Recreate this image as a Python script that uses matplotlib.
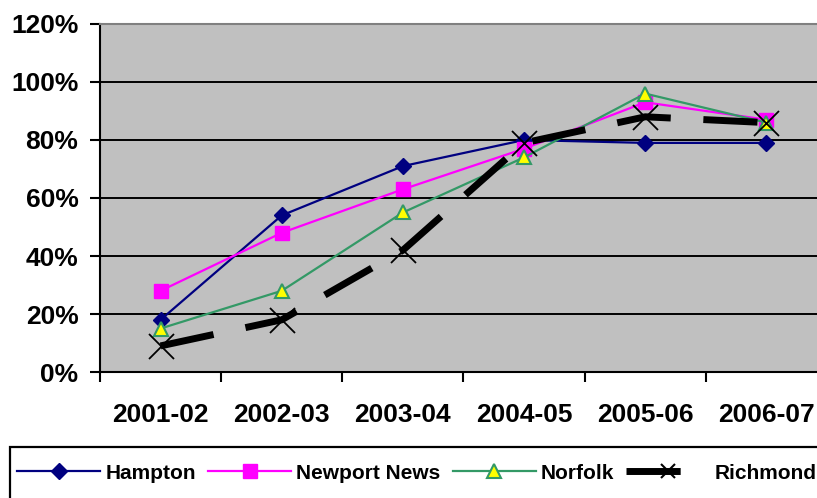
import matplotlib.pyplot as plt
from matplotlib.lines import Line2D
from matplotlib.patches import Rectangle

years = ['2001-02', '2002-03', '2003-04', '2004-05', '2005-06', '2006-07']
hampton = [18, 54, 71, 80, 79, 79]
newport_news = [28, 48, 63, 77, 93, 87]
norfolk = [15, 28, 55, 74, 96, 86]
richmond = [9, 18, 42, 79, 88, 86]

plt.rcParams['font.family'] = ['Liberation Sans', 'DejaVu Sans']

fig = plt.figure(figsize=(8.17, 4.98), dpi=100)
ax = fig.add_axes([100/817, 1-372/498, 727/817, 348/498])
ax.set_facecolor('#C0C0C0')

x = list(range(len(years)))
h1, = ax.plot(x, hampton, color='#000080', lw=1.6, marker='D', ms=8,
              mfc='#000080', mec='#000080', zorder=3)
h2, = ax.plot(x, newport_news, color='#FF00FF', lw=1.6, marker='s', ms=10,
              mfc='#FF00FF', mec='#FF00FF', zorder=3)
h3, = ax.plot(x, norfolk, color='#339966', lw=1.6, marker='^', ms=10,
              mfc='#FFFF00', mec='#339966', mew=1.5, zorder=3)
ax.plot(x, richmond, color='black', lw=5, dashes=(7.8, 4.7), marker='x', ms=18,
        mew=1.3, mec='black', zorder=4)

ax.set_xlim(-0.5, 5.5)
ax.set_ylim(0, 120)
ax.set_yticks(range(0, 121, 20))
ax.set_yticklabels([f'{v}%' for v in range(0, 121, 20)])
ax.yaxis.grid(True, color='black', lw=1.4)
ax.set_axisbelow(True)

ax.set_xticks([i - 0.5 for i in range(7)])
ax.set_xticklabels([])
ax.set_xticks(x, minor=True)
ax.set_xticklabels(years, minor=True, fontsize=19, fontweight='bold')
ax.tick_params(axis='x', which='major', direction='out', length=7, width=1.5)
ax.tick_params(axis='x', which='minor', length=0, pad=22)
ax.tick_params(axis='y', direction='out', length=7, width=1.5, labelsize=19, pad=8.5)
for lab in ax.get_yticklabels():
    lab.set_fontweight('bold')

ax.spines['top'].set_color('#808080')
ax.spines['top'].set_linewidth(1.5)
ax.spines['right'].set_visible(False)
ax.spines['left'].set_linewidth(1.5)
ax.spines['bottom'].set_linewidth(1.5)

# legend box runs off the right and bottom edges, as in the original
fig.patches.append(Rectangle((10/817, -0.05), 1.0, 1-447/498+0.05,
                             transform=fig.transFigure, fill=False,
                             edgecolor='black', lw=1.6))
h4 = Line2D([], [], color='black', lw=5, dashes=(7.8, 20), marker='x', ms=10,
            mew=1.5, mec='black')
fig.legend([h1, h2, h3, h4], ['Hampton', 'Newport News', 'Norfolk', 'Richmond'],
           loc='center left', bbox_to_anchor=(17/817, 1-473/498), ncol=4,
           frameon=False, borderpad=0, borderaxespad=0,
           handlelength=4.0, handletextpad=0.24, columnspacing=0.58,
           prop={'weight': 'bold', 'size': 15})

fig.savefig('out.png', dpi=100)
